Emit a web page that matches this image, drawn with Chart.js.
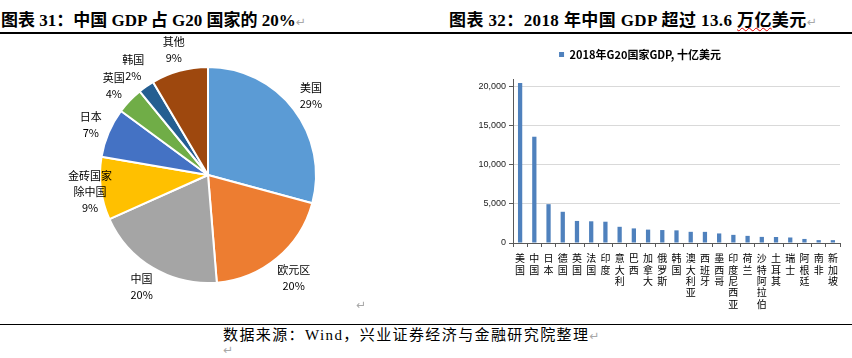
<!DOCTYPE html>
<html>
<head>
<meta charset="utf-8">
<script src="https://cdn.jsdelivr.net/npm/chart.js@4.4.0/dist/chart.umd.min.js"></script>
<style>
body{margin:0;width:852px;height:358px;background:#fff;position:relative;overflow:hidden;font-family:"Noto Sans CJK SC",sans-serif}
.t{position:absolute;top:11px;font:bold 17px/20px "Liberation Serif","Noto Sans CJK SC";white-space:nowrap;color:#000}
.ret{color:#a8a8a8;font-weight:normal;font-size:12px;font-family:"DejaVu Sans"}
.rule{position:absolute;left:0;width:852px;background:#000}
.src{position:absolute;left:223px;top:325px;font:15px/20px "Liberation Serif","Noto Sans CJK SC";letter-spacing:1.4px;white-space:nowrap}
.wavy{text-decoration:underline wavy #e00000;text-decoration-thickness:1px}
canvas{position:absolute}
</style>
</head>
<body>
<div class="t" style="left:1px">图表 31：中国 GDP 占 G20 国家的 20%<span class="ret">↵</span></div>
<div class="t" style="left:449px;letter-spacing:0.4px">图表 32：2018 年中国 GDP 超过 13.6 <span class="wavy">万亿</span>美元<span class="ret">↵</span></div>
<div class="rule" style="top:32px;height:2px"></div>
<canvas id="pie" width="420" height="284" style="left:0;top:36px"></canvas>
<canvas id="bar" width="412" height="284" style="left:440px;top:36px"></canvas>
<div class="ret" style="position:absolute;left:356px;top:298px">↵</div>
<div class="rule" style="top:324px;height:1px"></div>
<div class="src">数据来源：Wind，兴业证券经济与金融研究院整理<span class="ret">↵</span></div>
<div class="ret" style="position:absolute;left:223px;top:343px">↵</div>
<script>
// 图表31 份额
var pieNames = [['美国'], ['欧元区'], ['中国'], ['金砖国家', '除中国'], ['日本'], ['英国'], ['韩国'], ['其他']];
var pieShares = [29.2, 19.5, 19.6, 9.4, 7.4, 4.0, 2.4, 8.5];
var pieColors = ['#5B9BD5', '#ED7D31', '#A5A5A5', '#FFC000', '#4472C4', '#70AD47', '#255E91', '#9E480E'];

// 图表32 2018年G20国家GDP，十亿美元
var countries = ['美国', '中国', '日本', '德国', '英国', '法国', '印度', '意大利', '巴西', '加拿大', '俄罗斯', '韩国',
  '澳大利亚', '西班牙', '墨西哥', '印度尼西亚', '荷兰', '沙特阿拉伯', '土耳其', '瑞士', '阿根廷', '南非', '新加坡'];
var gdp2018 = [20494, 13608, 4971, 3997, 2825, 2778, 2726, 2074, 1869, 1713, 1658, 1619,
  1432, 1426, 1224, 1042, 913, 782, 767, 706, 520, 368, 364];
var yTicks = [0, 5000, 10000, 15000, 20000];

var pieLabelPlugin = {
  id: 'pieLabels',
  afterDatasetsDraw: function(chart) {
    var ctx = chart.ctx;
    var arcs = chart.getDatasetMeta(0).data;
    ctx.save();
    ctx.font = '11px "Noto Sans CJK SC"';
    ctx.fillStyle = '#000';
    ctx.textAlign = 'center';
    ctx.textBaseline = 'middle';
    arcs.forEach(function(arc, i) {
      var p = arc.getProps(['startAngle', 'endAngle', 'outerRadius', 'x', 'y'], true);
      var mid = (p.startAngle + p.endAngle) / 2;
      var dx = Math.cos(mid), dy = Math.sin(mid);
      var lines = pieNames[i].concat([Math.round(pieShares[i]) + '%']);
      var w = 0;
      lines.forEach(function(s) { w = Math.max(w, ctx.measureText(s).width); });
      var h = lines.length * 16;
      var dist = p.outerRadius + 3 + Math.abs(dx) * w / 2 + Math.abs(dy) * h / 2;
      var cx = p.x + dx * dist, cy = p.y + dy * dist;
      cx = Math.max(cx, 68 + w / 2);
      lines.forEach(function(s, k) {
        ctx.fillText(s, cx, cy - h / 2 + 8 + k * 16);
      });
    });
    ctx.restore();
  }
};

new Chart('pie', {
  type: 'pie',
  data: {
    labels: pieNames.map(function(n) { return n.join(''); }),
    datasets: [{
      data: pieShares,
      backgroundColor: pieColors,
      borderColor: '#fff',
      borderWidth: 2
    }]
  },
  options: {
    responsive: false,
    animation: false,
    layout: {padding: {left: 99, right: 103, top: 30, bottom: 36}},
    plugins: {legend: {display: false}, tooltip: {enabled: false}}
  },
  plugins: [pieLabelPlugin]
});

var legendGap = {
  id: 'legendGap',
  beforeInit: function(chart) {
    var fit = chart.legend.fit;
    chart.legend.fit = function() {
      fit.bind(chart.legend)();
      this.height = 40;
    };
  }
};

new Chart('bar', {
  type: 'bar',
  data: {
    labels: countries.map(function(c) { return c.split(''); }),
    datasets: [{
      label: '2018年G20国家GDP, 十亿美元',
      data: gdp2018,
      backgroundColor: '#4F81BD',
      barPercentage: 0.3,
      categoryPercentage: 1
    }]
  },
  options: {
    responsive: false,
    animation: false,
    layout: {padding: {top: 3, right: 12, left: 0, bottom: 0}},
    plugins: {
      tooltip: {enabled: false},
      legend: {
        labels: {
          boxWidth: 5, boxHeight: 5, padding: 10, color: '#000',
          font: {size: 11, weight: 'bold', family: '"Noto Sans CJK SC"'}
        }
      }
    },
    scales: {
      x: {
        grid: {drawOnChartArea: false, tickLength: 4, tickColor: '#595959'},
        border: {color: '#595959'},
        ticks: {
          autoSkip: false, maxRotation: 0, minRotation: 0, padding: 6, color: '#000',
          font: {size: 10, lineHeight: 1.13, family: '"Noto Sans CJK SC"'}
        },
        afterFit: function(s) { s.height = 77; }
      },
      y: {
        min: 0,
        max: 21000,
        grid: {color: '#D9D9D9', tickLength: 4, tickColor: '#595959'},
        border: {color: '#595959'},
        ticks: {
          padding: 3, color: '#222',
          font: {size: 9, family: '"Liberation Sans"'},
          callback: function(v) { return v.toLocaleString('en-US'); }
        },
        afterBuildTicks: function(axis) {
          axis.ticks = yTicks.map(function(v) { return {value: v}; });
        },
        afterFit: function(s) { s.width = 73; }
      }
    }
  },
  plugins: [legendGap]
});
</script>
</body>
</html>
